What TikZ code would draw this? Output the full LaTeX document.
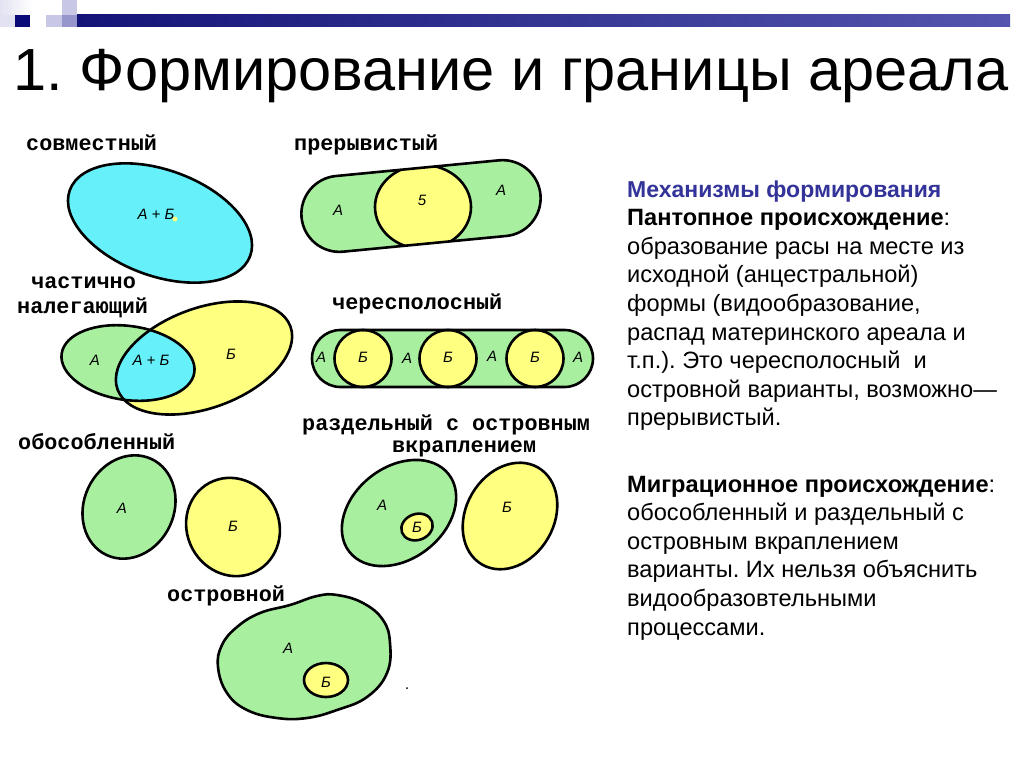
\documentclass[tikz,border=0pt]{standalone}
\usepackage{fontspec}
\setmainfont{Liberation Sans}
\newfontfamily\monof{Liberation Mono}
\definecolor{cyanfill}{RGB}{102,240,250}
\definecolor{greenfill}{RGB}{168,240,160}
\definecolor{yellowfill}{RGB}{255,255,128}
\definecolor{headblue}{RGB}{51,51,153}
\definecolor{navysq}{RGB}{10,10,120}
\definecolor{lavA}{RGB}{226,226,242}
\definecolor{lavB}{RGB}{200,200,230}
\definecolor{lavC}{RGB}{150,150,205}
\definecolor{barL}{RGB}{20,20,120}
\definecolor{barR}{RGB}{85,85,175}
\begin{document}
\begin{tikzpicture}[x=1pt,y=-1pt,
  outl/.style={draw=black,line width=2.6pt},
  lbl/.style={font=\monof\bfseries\fontsize{21.8}{24}\selectfont,anchor=base west,inner sep=0pt},
  inl/.style={font=\itshape\fontsize{15}{17}\selectfont,inner sep=0pt},
  bodytext/.style={font=\fontsize{23.6}{28.6}\selectfont,anchor=base west,inner sep=0pt}
]
\useasboundingbox (0,0) rectangle (1024,768);
\fill[white] (0,0) rectangle (1024,768);

% top decoration
\shade[left color=lavA,right color=white] (0,0) rectangle (32,15);
\fill[lavA] (0,15) rectangle (15,27);
\fill[navysq] (15,15) rectangle (30,27);
\fill[lavB] (46,15) rectangle (62,27);
\fill[lavB] (62,0) rectangle (77,15);
\fill[lavC] (62,15) rectangle (77,27);
\shade[left color=barL,right color=barR] (77,15) rectangle (1010,27);

% title
\node[font=\fontsize{59.5}{63}\selectfont,anchor=base west,inner sep=0pt] (title) at (13,90) {1.\hspace{17pt}Формирование и границы ареала};

% right text, first block
\node[bodytext,text=headblue,font=\bfseries\fontsize{23}{28.6}\selectfont] (b1) at (627,197) {Механизмы формирования};
\node[bodytext] (b2) at (627,225.6) {{\bfseries Пантопное происхождение}:};
\node[bodytext] (b3) at (627,254.2) {образование расы на месте из};
\node[bodytext] (b4) at (627,282.8) {исходной (анцестральной)};
\node[bodytext] (b5) at (627,311.4) {формы (видообразование,};
\node[bodytext] (b6) at (627,340.0) {распад материнского ареала и};
\node[bodytext] (b7) at (627,368.6) {т.п.).\ Это чересполосный\ \ и};
\node[bodytext] (b8) at (627,397.2) {островной варианты, возможно—};
\node[bodytext] (b9) at (627,425.8) {прерывистый.};
% second block
\node[bodytext] (m1) at (627,492) {{\bfseries Миграционное происхождение}:};
\node[bodytext] (m2) at (627,520.6) {обособленный и раздельный с};
\node[bodytext] (m3) at (627,549.2) {островным вкраплением};
\node[bodytext] (m4) at (627,577.8) {варианты.\ Их нельзя объяснить};
\node[bodytext] (m5) at (627,606.4) {видообразовтельными};
\node[bodytext] (m6) at (627,635.0) {процессами.};

% labels
\node[lbl] (l1) at (26,150) {совместный};
\node[lbl] (l2) at (294,150) {прерывистый};
\node[lbl] (l3) at (31,288) {частично};
\node[lbl] (l4) at (17,313) {налегающий};
\node[lbl] (l5) at (332,309) {чересполосный};
\node[lbl] (l6) at (302,430) {раздельный с островным};
\node[lbl] (l7) at (392,452) {вкраплением};
\node[lbl] (l8) at (18,449) {обособленный};
\node[lbl] (l9) at (167,601) {островной};

% 1 совместный
\filldraw[outl,fill=cyanfill,rotate around={-20:(160,223)}] (160,223) ellipse [x radius=96,y radius=53];
\node[inl] (s1) at (156,214) {А + Б};
\fill[yellowfill] (175,219) circle (2.5);

% 2 прерывистый
\fill[greenfill,rotate around={5.5:(421,206)},rounded corners=38pt] (301,168) rectangle (541,244);
\begin{scope}
  \clip[rotate around={5.5:(421,206)},rounded corners=38pt] (301,168) rectangle (541,244);
  \filldraw[outl,fill=yellowfill] (423,207) ellipse [x radius=48,y radius=42];
\end{scope}
\draw[outl,rotate around={5.5:(421,206)},rounded corners=38pt] (301,168) rectangle (541,244);
\node[inl] (p1) at (338,210) {А};
\node[inl] (p2) at (422,200) {5};
\node[inl] (p3) at (501,190) {А};

% 3 частично налегающий
\fill[greenfill,rotate around={-8:(128,363)}] (128,363) ellipse [x radius=67,y radius=37];
\fill[yellowfill,rotate around={20:(204,358)}] (204,358) ellipse [x radius=92,y radius=50];
\begin{scope}
  \clip[rotate around={-8:(128,363)}] (128,363) ellipse [x radius=67,y radius=37];
  \fill[cyanfill,rotate around={20:(204,358)}] (204,358) ellipse [x radius=92,y radius=50];
\end{scope}
\draw[outl,rotate around={-8:(128,363)}] (128,363) ellipse [x radius=67,y radius=37];
\draw[outl,rotate around={20:(204,358)}] (204,358) ellipse [x radius=92,y radius=50];
\node[inl] (c1) at (95,360) {А};
\node[inl] (c2) at (151,360) {А + Б};
\node[inl] (c3) at (231,354) {Б};

% 4 чересполосный
\fill[greenfill,rounded corners=28.5pt] (312,330) rectangle (593,387);
\filldraw[outl,fill=yellowfill] (363,358.5) circle (28.5);
\filldraw[outl,fill=yellowfill] (448,358.5) circle (28.5);
\filldraw[outl,fill=yellowfill] (535,358.5) circle (28.5);
\draw[outl,rounded corners=28.5pt] (312,330) rectangle (593,387);
\node[inl] (h1) at (321,357) {А};
\node[inl] (h2) at (363,357) {Б};
\node[inl] (h3) at (407,358) {А};
\node[inl] (h4) at (448,357) {Б};
\node[inl] (h5) at (492,356) {А};
\node[inl] (h6) at (535,357) {Б};
\node[inl] (h7) at (578,357) {А};

% 5 обособленный
\filldraw[outl,fill=greenfill,rotate around={65:(129,507)}] (129,507) ellipse [x radius=53,y radius=45];
\filldraw[outl,fill=yellowfill,rotate around={-62:(233,527)}] (233,527) ellipse [x radius=50,y radius=46];
\node[inl] (o1) at (122,508) {А};
\node[inl] (o2) at (233,526) {Б};

% 6 раздельный с островным вкраплением
\filldraw[outl,fill=greenfill,rotate around={38:(399,513)}] (399,513) ellipse [x radius=63,y radius=46];
\filldraw[outl,fill=yellowfill,rotate around={20:(417,527)}] (417,527) ellipse [x radius=16,y radius=13];
\filldraw[outl,fill=yellowfill,rotate around={60:(510,516)}] (510,516) ellipse [x radius=56,y radius=44];
\node[inl] (r1) at (382,505) {А};
\node[inl] (r2) at (417,527) {Б};
\node[inl] (r3) at (507,507) {Б};

% 7 островной
\filldraw[outl,fill=greenfill] plot[smooth cycle,tension=0.7] coordinates {(218,667) (222,645) (237,627) (260,613) (290,605) (317,596) (337,595) (363,603) (383,620) (390,643) (387,673) (367,697) (337,710) (307,718) (277,718) (247,710) (227,693)};
\filldraw[outl,fill=yellowfill] (326,680) ellipse [x radius=22,y radius=17];
\node[inl] (i1) at (288,648) {А};
\node[inl] (i2) at (326,682) {Б};
\fill[black] (407,688) circle (1);
\end{tikzpicture}
\end{document}
